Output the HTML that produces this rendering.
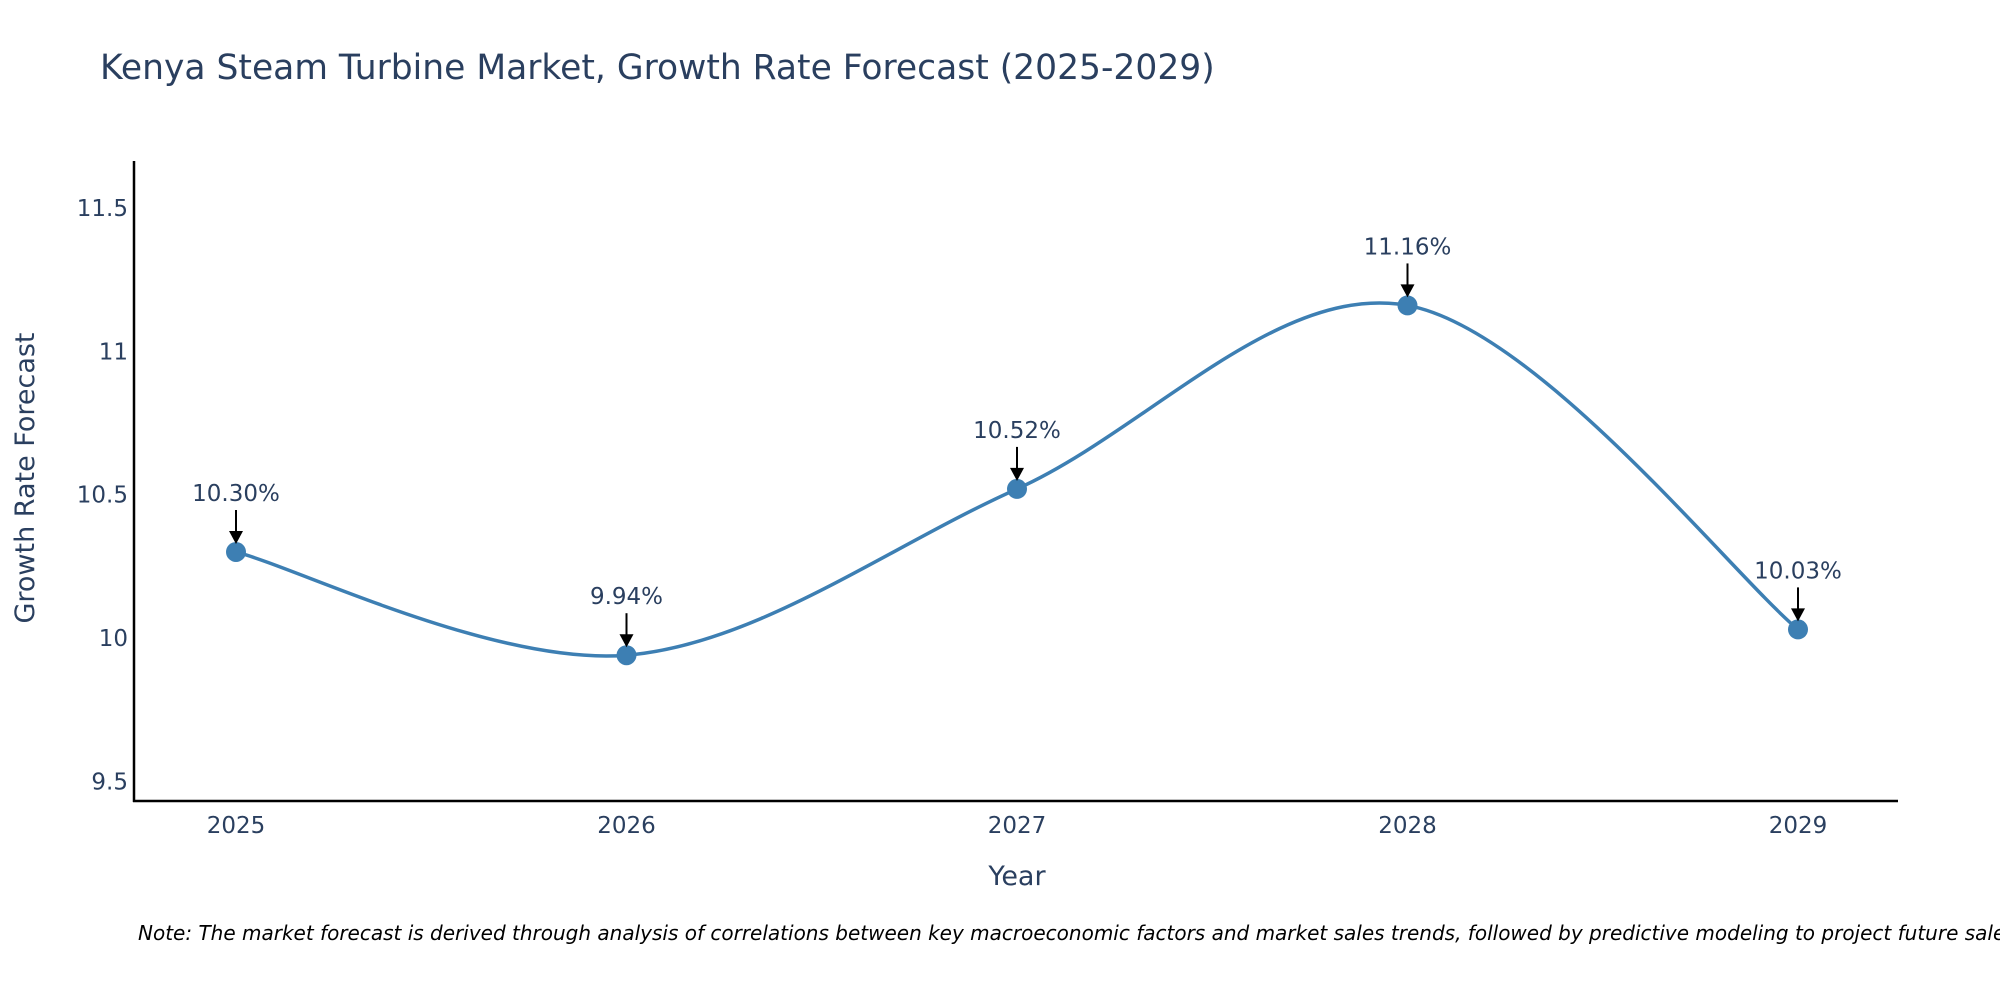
<!DOCTYPE html>
<html><head><meta charset="utf-8"><style>
html,body{margin:0;padding:0;background:#fff;}
svg{display:block;font-family:"DejaVu Sans","Liberation Sans",sans-serif;}
</style></head><body>
<svg id="chart" width="2000" height="1000" viewBox="0 0 2000 1000">
<text x="100" y="79" font-size="34.5" fill="#2a3f5f">Kenya Steam Turbine Market, Growth Rate Forecast (2025-2029)</text>
<g id="yticks"></g>
<g id="xticks"></g>
<line x1="134" y1="161" x2="134" y2="802" stroke="#000" stroke-width="2.5"/>
<line x1="133" y1="801" x2="1898" y2="801" stroke="#000" stroke-width="2.5"/>
<text transform="translate(34,478) rotate(-90)" text-anchor="middle" font-size="27" fill="#2a3f5f">Growth Rate Forecast</text>
<text x="1017" y="885" text-anchor="middle" font-size="27" fill="#2a3f5f">Year</text>
<g id="series"></g>
<text x="138" y="940" font-size="20" font-style="italic" fill="#000">Note: The market forecast is derived through analysis of correlations between key macroeconomic factors and market sales trends, followed by predictive modeling to project future sales.</text>
</svg>
<script>
const years = [2025, 2026, 2027, 2028, 2029];
const growth = [10.30, 9.94, 10.52, 11.16, 10.03];
const labels = ["10.30%", "9.94%", "10.52%", "11.16%", "10.03%"];
const yTicks = [9.5, 10, 10.5, 11, 11.5];
const yTickLabels = ["9.5", "10", "10.5", "11", "11.5"];

const NS = "http://www.w3.org/2000/svg";
function xs(v){ return 236 + (v - 2025) * 390.5; }
function ys(v){ return 638 - (v - 10) * 286.7; }
function mk(tag, attrs, parent){ const e = document.createElementNS(NS, tag); for (const k in attrs) e.setAttribute(k, attrs[k]); parent.appendChild(e); return e; }

const yg = document.getElementById('yticks');
yTicks.forEach((t, i) => {
  const e = mk('text', {x: 128, y: ys(t) + 8, 'text-anchor': 'end', 'font-size': 23, fill: '#2a3f5f'}, yg);
  
  
  e.textContent = yTickLabels[i];
});
const xg = document.getElementById('xticks');
years.forEach(y => {
  const e = mk('text', {x: xs(y), y: 833, 'text-anchor': 'middle', 'font-size': 23, fill: '#2a3f5f'}, xg);
  
  
  e.textContent = String(y);
});

const sg = document.getElementById('series');
const pts = years.map((y, i) => [xs(y), ys(growth[i])]);
let d = `M${pts[0][0]},${pts[0][1]}`;
const tt = 0.5;
for (let i = 0; i < pts.length - 1; i++) {
  const p0 = pts[Math.max(0, i - 1)], p1 = pts[i], p2 = pts[i + 1], p3 = pts[Math.min(pts.length - 1, i + 2)];
  const c1 = [p1[0] + (p2[0] - p0[0]) * tt / 3, p1[1] + (p2[1] - p0[1]) * tt / 3];
  const c2 = [p2[0] - (p3[0] - p1[0]) * tt / 3, p2[1] - (p3[1] - p1[1]) * tt / 3];
  d += ` C${c1[0]},${c1[1]} ${c2[0]},${c2[1]} ${p2[0]},${p2[1]}`;
}
const line = mk('path', {d: d, fill: 'none', stroke: '#3d7fb3', 'stroke-width': 3.5}, sg);



pts.forEach((p, i) => {
  const c = mk('circle', {cx: p[0], cy: p[1], r: 10, fill: '#3d7fb3'}, sg);
  
  
  const a = mk('line', {x1: p[0], y1: p[1] - 42, x2: p[0], y2: p[1] - 20, stroke: '#000', 'stroke-width': 2}, sg);
  
  
  const h = mk('path', {d: `M${p[0]-7},${p[1]-21} L${p[0]+7},${p[1]-21} L${p[0]},${p[1]-8} Z`, fill: '#000'}, sg);
  
  
  const t = mk('text', {x: p[0], y: p[1] - 51, 'text-anchor': 'middle', 'font-size': 23, fill: '#2a3f5f'}, sg);
  
  
  t.textContent = labels[i];
});
</script>
</body></html>
